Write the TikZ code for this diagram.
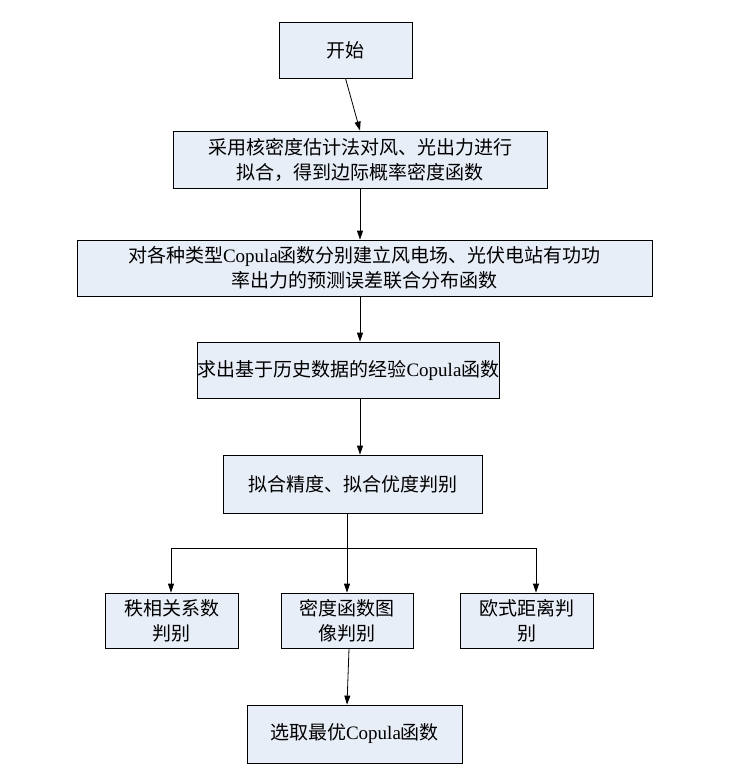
\documentclass[tikz,border=0pt]{standalone}
\usepackage{fontspec}
\setmainfont{Liberation Serif}
\newfontfamily\cjk{Noto Sans CJK SC}
\usetikzlibrary{arrows.meta}
\begin{document}
\begin{tikzpicture}[x=1pt,y=-1pt,
  bx/.style={draw=black,fill=boxfill,line width=0.8pt,inner sep=0pt,align=center,font=\fontsize{19}{25}\selectfont},
  ar/.style={-{Triangle[length=9pt,width=6pt]},line width=0.8pt}]
\definecolor{boxfill}{HTML}{E8EEF7}
\useasboundingbox (0,0) rectangle (740,768);
\newcommand\bxx[6]{\node[bx,minimum width=#4-#2,minimum height=#5-#3] (#1) at ({(#2+#4)/2},{(#3+#5)/2}) {#6};}
\bxx{a}{279}{22}{412}{78}{\cjk 开始}
\bxx{b}{173}{131}{547}{188}{\cjk 采用核密度估计法对风、光出力进行\\\cjk 拟合，得到边际概率密度函数}
\bxx{c}{77}{240}{652}{296}{\cjk 对各种类型{\rmfamily Copula}函数分别建立风电场、光伏电站有功功\\\cjk 率出力的预测误差联合分布函数}
\bxx{d}{223}{342}{474}{398}{\cjk 求出基于历史数据的经验{\rmfamily Copula}函数}
\bxx{e}{223}{455}{482}{513}{\cjk 拟合精度、拟合优度判别}
\bxx{f}{105}{593}{238}{648}{\cjk 秩相关系数\\\cjk 判别}
\bxx{g}{281}{593}{413}{648}{\cjk 密度函数图\\\cjk 像判别}
\bxx{h}{460}{593}{593}{648}{\cjk 欧式距离判\\\cjk 别}
\bxx{i}{247}{705}{462}{763}{\cjk 选取最优{\rmfamily Copula}函数}
\draw[ar] (a.south) -- (b.south |- b.north);
\draw[ar] (b.south) -- (b.south |- c.north);
\draw[ar] (c.south -| b.south) -- (b.south |- d.north);
\draw[ar] (d.south -| b.south) -- (b.south |- e.north);
\coordinate (j) at (347,548);
\draw[line width=0.8pt] (e.south -| j) -- (j);
\draw[line width=0.8pt] (171,548) -- (536,548);
\draw[ar] (171,548) -- (f.north -| 171,0);
\draw[ar] (j) -- (g.north -| j);
\draw[ar] (536,548) -- (h.north -| 536,0);
\draw[ar] (g.south -| 349,0) -- (i.north -| 347,0);
\end{tikzpicture}
\end{document}
